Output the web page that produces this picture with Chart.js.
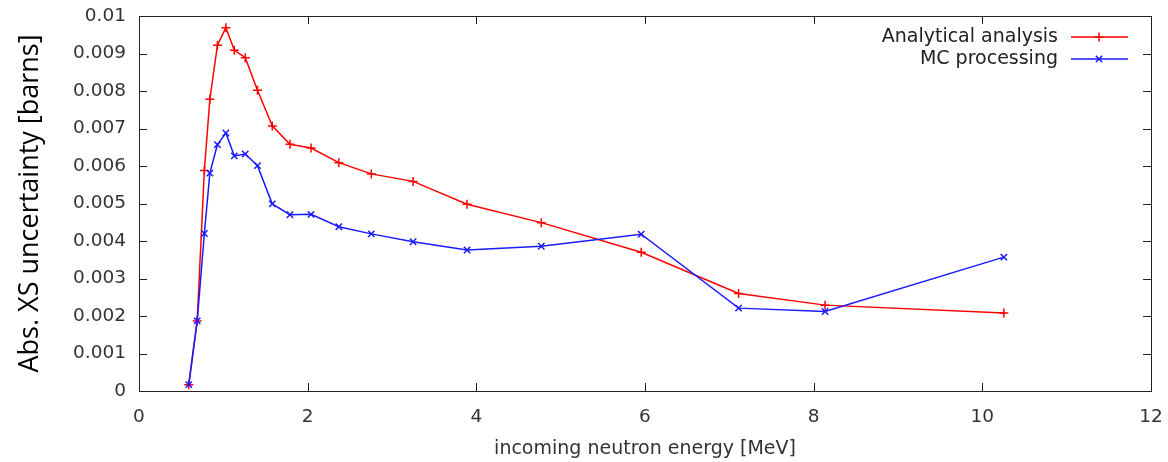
<!DOCTYPE html>
<html>
<head>
<meta charset="utf-8">
<script src="https://cdn.jsdelivr.net/npm/chart.js@4/dist/chart.umd.min.js"></script>
<style>
  html, body { margin: 0; padding: 0; background: #fff; }
  canvas { display: block; }
</style>
</head>
<body>
<canvas id="xs-chart" width="1168" height="462"></canvas>
<script>
// incoming neutron energy [MeV], shared by both curves
const energy = [0.59, 0.69, 0.775, 0.84, 0.93, 1.03, 1.13, 1.26, 1.405, 1.58, 1.79,
  2.04, 2.37, 2.755, 3.25, 3.89, 4.77, 5.955, 7.11, 8.135, 10.255];

const analytical = [0.00017, 0.00187, 0.00588, 0.00778, 0.00922, 0.00969, 0.00909, 0.00889,
  0.00802, 0.00707, 0.00658, 0.00648, 0.00609, 0.00579, 0.00559, 0.00498, 0.00449, 0.0037,
  0.0026, 0.00229, 0.00208];

const mcProcessing = [0.00017, 0.00187, 0.0042, 0.00581, 0.00657, 0.00688, 0.00627, 0.00632,
  0.00601, 0.00499, 0.0047, 0.00471, 0.00438, 0.00419, 0.00398, 0.00376, 0.00386, 0.00418,
  0.00221, 0.00212, 0.00357];

const seriesLabels = ['Analytical analysis', 'MC processing'];
const xTickLabels = ['0', '2', '4', '6', '8', '10', '12'];
const yTickLabels = ['0', '0.001', '0.002', '0.003', '0.004', '0.005', '0.006', '0.007', '0.008', '0.009', '0.01'];

const toPoints = ys => energy.map((x, i) => ({ x: x, y: ys[i] }));

// gnuplot-style frame with inward ticks on all four sides
const frame = {
  id: 'frame',
  afterDatasetsDraw(chart) {
    const { ctx, chartArea: a, scales } = chart;
    ctx.save();
    ctx.strokeStyle = '#222';
    ctx.lineWidth = 1;
    ctx.beginPath();
    scales.x.ticks.forEach(t => {
      const px = Math.round(scales.x.getPixelForValue(t.value)) + 0.5;
      ctx.moveTo(px, a.bottom); ctx.lineTo(px, a.bottom - 8);
      ctx.moveTo(px, a.top); ctx.lineTo(px, a.top + 8);
    });
    scales.y.ticks.forEach(t => {
      const py = Math.round(scales.y.getPixelForValue(t.value)) + 0.5;
      ctx.moveTo(a.left, py); ctx.lineTo(a.left + 8, py);
      ctx.moveTo(a.right, py); ctx.lineTo(a.right - 8, py);
    });
    ctx.stroke();
    ctx.strokeRect(Math.round(a.left) + 0.5, Math.round(a.top) + 0.5,
      Math.round(a.right - a.left), Math.round(a.bottom - a.top));

    // legend, top right inside the frame
    ctx.font = '19px "DejaVu Sans"';
    ctx.textAlign = 'right';
    ctx.textBaseline = 'middle';
    chart.data.datasets.forEach((ds, i) => {
      const y = 37 + i * 22;
      ctx.fillStyle = '#222';
      ctx.fillText(ds.label, a.right - 93, y);
      ctx.strokeStyle = ds.borderColor;
      ctx.lineWidth = 1.5;
      ctx.beginPath();
      ctx.moveTo(a.right - 80, y); ctx.lineTo(a.right - 23, y);
      ctx.stroke();
      Chart.helpers.drawPoint(ctx, { pointStyle: ds.pointStyle, radius: 4.5, borderWidth: 1.5 }, a.right - 52, y);
    });
    ctx.restore();
  }
};

new Chart(document.getElementById('xs-chart'), {
  type: 'scatter',
  data: {
    datasets: [
      {
        label: seriesLabels[0],
        data: toPoints(analytical),
        showLine: true,
        borderColor: '#ff0000',
        backgroundColor: '#ff0000',
        borderWidth: 1.5,
        pointStyle: 'cross',
        pointRadius: 4.5,
        pointBorderWidth: 1.5,
        order: 2
      },
      {
        label: seriesLabels[1],
        data: toPoints(mcProcessing),
        showLine: true,
        borderColor: '#1a1aff',
        backgroundColor: '#1a1aff',
        borderWidth: 1.5,
        pointStyle: 'crossRot',
        pointRadius: 4.5,
        pointBorderWidth: 1.5,
        order: 1
      }
    ]
  },
  options: {
    responsive: false,
    animation: false,
    layout: { padding: { top: 16, right: 17, left: 0, bottom: 0 } },
    plugins: {
      legend: { display: false },
      tooltip: { enabled: false }
    },
    scales: {
      x: {
        type: 'linear',
        min: 0,
        max: 12,
        afterFit: s => { s.height = 71; s.paddingLeft = 0; s.paddingRight = 0; },
        grid: { display: false, drawTicks: false },
        border: { display: false },
        ticks: {
          stepSize: 2,
          padding: 15,
          color: '#333',
          font: { family: 'DejaVu Sans', size: 18.5 },
          callback: (v, i) => xTickLabels[i]
        },
        title: {
          display: true,
          text: 'incoming neutron energy [MeV]',
          color: '#333',
          font: { family: 'DejaVu Sans', size: 19 },
          padding: { top: 0, bottom: 2 }
        }
      },
      y: {
        min: 0,
        max: 0.01,
        afterFit: s => { s.width = 139; s.paddingTop = 0; s.paddingBottom = 0; },
        grid: { display: false, drawTicks: false },
        border: { display: false },
        ticks: {
          stepSize: 0.001,
          padding: 13,
          color: '#333',
          font: { family: 'DejaVu Sans', size: 18.5 },
          callback: (v, i) => yTickLabels[i]
        },
        title: {
          display: true,
          text: 'Abs. XS uncertainty [barns]',
          color: '#000',
          font: { family: 'Open Sans', size: 27 },
          padding: { top: 14, bottom: 0 }
        }
      }
    }
  },
  plugins: [frame]
});
</script>
</body>
</html>
